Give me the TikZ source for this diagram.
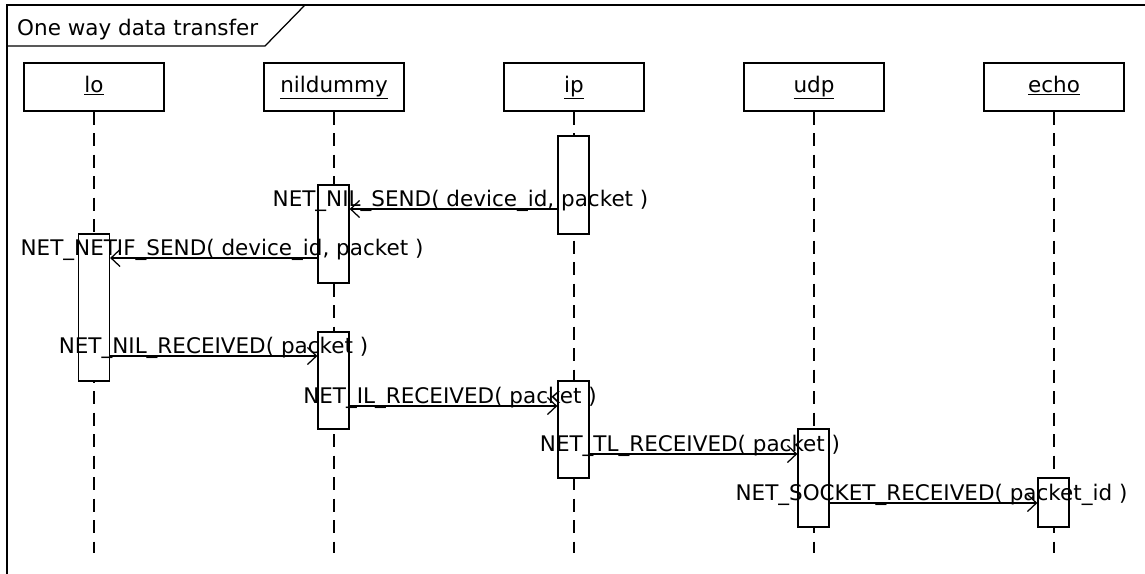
\documentclass[tikz,border=0pt]{standalone}
\usepackage{fontspec}
\setmainfont{DejaVu Sans}
\usetikzlibrary{arrows.meta}

\tikzset{
  lw/.style={line width=1.25pt},
  head/.style={lw, draw, fill=white, minimum width=140pt, minimum height=48pt, inner sep=0pt},
  headtext/.style={anchor=base, inner sep=0pt, font=\fontsize{21.5pt}{24pt}\selectfont},
  life/.style={lw, dash pattern=on 13pt off 8.5pt},
  act/.style={lw, draw, fill=white, minimum width=31pt, inner sep=0pt},
  msgarrow/.style={lw, -{Straight Barb[length=9pt,width=17pt,line width=1.25pt]}},
  msg/.style={anchor=base, inner sep=0pt, font=\fontsize{21.5pt}{24pt}\selectfont},
}

\begin{document}
\begin{tikzpicture}[x=1pt, y=-1pt]
  \useasboundingbox (0,0) rectangle (1145,573);
  \clip (0,0) rectangle (1145,573);
  \fill[white] (0,0) rectangle (1145,573);

  % diagram frame with its title tab
  \draw[lw] (7,5) rectangle (1170,600);
  \draw[lw] (7,46) -- (265,46) -- (305,5);
  \node[msg, anchor=base west] (title) at (17,35) {One way data transfer};

  % lifeline heads
  \node[head] (lo)   at (94,87)   {};
  \node[head] (nil)  at (334,87)  {};
  \node[head] (ip)   at (574,87)  {};
  \node[head] (udp)  at (814,87)  {};
  \node[head] (echo) at (1054,87) {};
  \node[headtext] (loT)   at (lo.center |- 0,92)   {\underline{lo}};
  \node[headtext] (nilT)  at (nil.center |- 0,92)  {\underline{nildummy}};
  \node[headtext] (ipT)   at (ip.center |- 0,92)   {\underline{ip}};
  \node[headtext] (udpT)  at (udp.center |- 0,92)  {\underline{udp}};
  \node[headtext] (echoT) at (echo.center |- 0,92) {\underline{echo}};

  % lifeline ends
  \coordinate (loE)   at (94,553);
  \coordinate (nilE)  at (334,553);
  \coordinate (ipE)   at (574,553);
  \coordinate (udpE)  at (814,553);
  \coordinate (echoE) at (1054,553);

  \draw[life] (lo.south)   -- (loE);
  \draw[life] (nil.south)  -- (nilE);
  \draw[life] (ip.south)   -- (ipE);
  \draw[life] (udp.south)  -- (udpE);
  \draw[life] (echo.south) -- (echoE);

  % activation bars
  \node[act, minimum height=98pt]  (ip1)   at (573.5,185) {};
  \node[act, minimum height=98pt]  (nil1)  at (333.5,234) {};
  \node[act, minimum height=147pt] (lo1)   at (94,307.5) {};
  \node[act, minimum height=97pt]  (nil2)  at (333.5,380.5) {};
  \node[act, minimum height=97pt]  (ip2)   at (573.5,429.5) {};
  \node[act, minimum height=98pt]  (udp1)  at (813.5,478) {};
  \node[act, minimum height=49pt]  (echo1) at (1053.5,502.5) {};

  % messages
  \draw[msgarrow] (ip1.west |- 0,209) -- (nil1.east |- 0,209);
  \draw[msgarrow] (nil1.west |- 0,258) -- (lo1.east |- 0,258);
  \draw[msgarrow] (lo1.east |- 0,356) -- (nil2.west |- 0,356);
  \draw[msgarrow] (nil2.east |- 0,406) -- (ip2.west |- 0,406);
  \draw[msgarrow] (ip2.east |- 0,454) -- (udp1.west |- 0,454);
  \draw[msgarrow] (udp1.east |- 0,503) -- (echo1.west |- 0,503);

  % message labels
  \node[msg] (m1) at (460.5,206) {NET\_NIL\_SEND( device\_id, packet )};
  \node[msg] (m2) at (222,255)   {NET\_NETIF\_SEND( device\_id, packet )};
  \node[msg] (m3) at (213.5,353) {NET\_NIL\_RECEIVED( packet )};
  \node[msg] (m4) at (450,403)   {NET\_IL\_RECEIVED( packet )};
  \node[msg] (m5) at (690,451)   {NET\_TL\_RECEIVED( packet )};
  \node[msg] (m6) at (931.5,500) {NET\_SOCKET\_RECEIVED( packet\_id )};
\end{tikzpicture}
\end{document}
